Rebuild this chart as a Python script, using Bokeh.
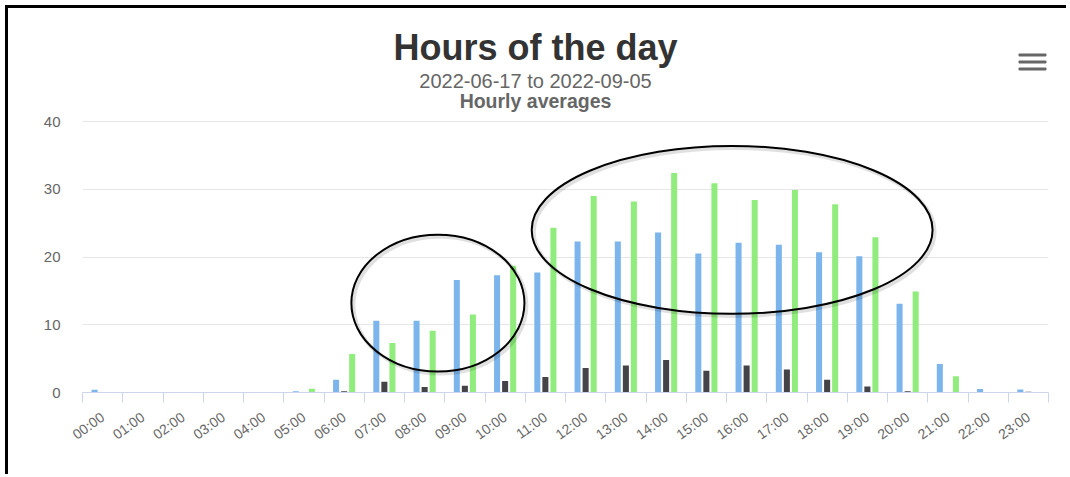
import math
from bokeh.plotting import figure
from bokeh.models import (Range1d, FixedTicker, CustomJSTickFormatter, Label,
                          ColumnDataSource, BoxAnnotation)
from bokeh.transform import dodge
from bokeh.embed import file_html
from bokeh.resources import INLINE

# ---------------- data ----------------
hours = ["00:00", "01:00", "02:00", "03:00", "04:00", "05:00", "06:00", "07:00",
         "08:00", "09:00", "10:00", "11:00", "12:00", "13:00", "14:00", "15:00",
         "16:00", "17:00", "18:00", "19:00", "20:00", "21:00", "22:00", "23:00"]
series_blue = [0.4, 0, 0, 0, 0, 0.2, 1.9, 10.6, 10.6, 16.6, 17.3, 17.7,
               22.3, 22.3, 23.6, 20.5, 22.1, 21.8, 20.7, 20.1, 13.1, 4.2, 0.5, 0.45]
series_dark = [0, 0, 0, 0, 0, 0, 0.2, 1.6, 0.8, 1.0, 1.7, 2.3,
               3.6, 4.0, 4.8, 3.2, 4.0, 3.4, 1.9, 0.9, 0.2, 0, 0, 0.1]
series_green = [0, 0, 0, 0, 0, 0.55, 5.7, 7.3, 9.1, 11.5, 18.7, 24.3,
                29.0, 28.2, 32.4, 30.9, 28.4, 29.9, 27.8, 22.9, 14.9, 2.4, 0, 0]
y_ticks = [0, 10, 20, 30, 40]

title_text = "Hours of the day"
subtitle_text = "2022-06-17 to 2022-09-05"
subtitle2_text = "Hourly averages"

# hand-drawn highlight ellipses (annotation overlay, in chart units)
ellipse_x = [8.83, 16.14]
ellipse_y = [13.2, 24.0]
ellipse_w = [4.30, 9.96]
ellipse_h = [20.2, 24.8]

# ---------------- layout helpers (page px -> chart units, decorations only) ----
FRAME_L, FRAME_R, FRAME_T, FRAME_B = 82, 1048, 121, 392   # plot area of the 0..40 axis
CANVAS_TOP = 8
def px_x(px):
    return (px - FRAME_L) / (FRAME_R - FRAME_L) * 24
def px_y(py):
    return (FRAME_B - py) / (FRAME_B - FRAME_T) * 40

# ---------------- figure ----------------
xc = [i + 0.5 for i in range(len(hours))]
src = ColumnDataSource(dict(xc=xc, hour=hours, blue=series_blue,
                            dark=series_dark, green=series_green))

W, H = 1061, 469
y_top = px_y(CANVAS_TOP)   # frame reaches the top of the canvas (title area inside)
p = figure(width=W, height=H, x_range=Range1d(0, 24), y_range=Range1d(0, y_top),
           output_backend="svg", toolbar_location=None, title=None,
           min_border_left=FRAME_L - 8, min_border_right=(8 + W) - FRAME_R,
           min_border_top=0, min_border_bottom=(8 + H) - FRAME_B)
p.outline_line_color = None
p.background_fill_color = "white"
p.border_fill_color = "white"
p.styles = {"border-top": "3px solid black", "border-left": "3px solid black",
            "margin-top": "5px", "margin-left": "5px"}

bw = 0.15
p.vbar(x=dodge("xc", -0.2, range=p.x_range), top="blue", bottom=0, width=bw,
       source=src, fill_color="#7cb5ec", line_color=None)
p.vbar(x=dodge("xc", 0.0, range=p.x_range), top="dark", bottom=0, width=bw,
       source=src, fill_color="#434348", line_color=None)
p.vbar(x=dodge("xc", 0.2, range=p.x_range), top="green", bottom=0, width=bw,
       source=src, fill_color="#90ed7d", line_color=None)

# ellipses (soft shadow + line)
p.ellipse(x=[v + 0.05 for v in ellipse_x], y=[v - 0.3 for v in ellipse_y],
          width=ellipse_w, height=ellipse_h, fill_color=None,
          line_color="#000000", line_alpha=0.12, line_width=4)
p.ellipse(x=ellipse_x, y=ellipse_y, width=ellipse_w, height=ellipse_h,
          fill_color=None, line_color="black", line_width=2)

# axes
xa = p.xaxis[0]
xa.ticker = FixedTicker(ticks=xc, minor_ticks=list(range(25)))
xa.formatter = CustomJSTickFormatter(args=dict(labels=hours),
                                     code="return labels[Math.floor(tick)];")
xa.major_tick_out = 0
xa.major_tick_in = 0
xa.minor_tick_out = 10
xa.minor_tick_in = 0
xa.minor_tick_line_color = "#ccd6eb"
xa.axis_line_color = "#ccd6eb"
xa.major_label_orientation = 0.62
xa.major_label_standoff = 13
xa.major_label_text_font = "Liberation Sans"
xa.major_label_text_font_size = "14px"
xa.major_label_text_color = "#666666"

ya = p.yaxis[0]
ya.ticker = FixedTicker(ticks=y_ticks)
ya.axis_line_color = None
ya.major_tick_line_color = None
ya.minor_tick_line_color = None
ya.major_tick_out = 0
ya.major_label_standoff = 22
ya.major_label_text_font = "Liberation Sans"
ya.major_label_text_font_size = "15px"
ya.major_label_text_color = "#666666"

p.xgrid.visible = False
p.ygrid.ticker = FixedTicker(ticks=y_ticks)
p.ygrid.grid_line_color = "#e6e6e6"

# titles as labels centred on the chart container (y = middle of capitals)
cx = px_x(535)
p.add_layout(Label(x=cx, y=px_y(46.5), text=title_text, text_align="center",
                   text_baseline="middle", text_font="Liberation Sans",
                   text_font_size="36px", text_font_style="bold", text_color="#333333"))
p.add_layout(Label(x=cx, y=px_y(80), text=subtitle_text, text_align="center",
                   text_baseline="middle", text_font="Liberation Sans",
                   text_font_size="20px", text_color="#666666"))
p.add_layout(Label(x=cx, y=px_y(100), text=subtitle2_text, text_align="center",
                   text_baseline="middle", text_font="Liberation Sans",
                   text_font_size="19.5px", text_font_style="bold", text_color="#666666"))

# menu (hamburger) icon
for top_px in [53, 60, 67]:
    p.add_layout(BoxAnnotation(left=px_x(1018), right=px_x(1046),
                               top=px_y(top_px), bottom=px_y(top_px + 3),
                               fill_color="#666666", fill_alpha=1.0, line_color=None,
                               border_radius=1))

open("out.html", "w").write(file_html(p, INLINE))
